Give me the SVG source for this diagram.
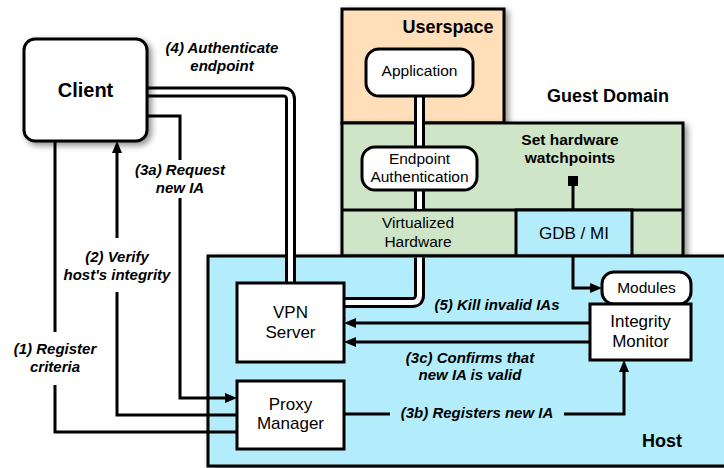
<svg xmlns="http://www.w3.org/2000/svg" width="724" height="468" viewBox="0 0 724 468">
<style>
.box{stroke:#000;stroke-width:3}
.t{font-family:"Liberation Sans",Arial,sans-serif;fill:#000;text-anchor:middle}
.n{font-size:15.5px}
.n17{font-size:17px}
.title{font-size:18px;font-weight:bold}
.lbl{font-size:15px;font-weight:bold;font-style:italic}
.line{fill:none;stroke:#000;stroke-width:3}
.dblo{fill:none;stroke:#000;stroke-width:11}
.dbli{fill:none;stroke:#fff;stroke-width:5}
</style>
<defs>
<filter id="sh" x="-10%" y="-10%" width="130%" height="130%">
<feDropShadow dx="3" dy="3" stdDeviation="3" flood-color="#000" flood-opacity="0.45"/>
</filter>
<marker id="arr" viewBox="0 0 12 10" refX="4" refY="5" markerWidth="12" markerHeight="10" markerUnits="userSpaceOnUse" orient="auto">
<path d="M0,0 L12,5 L0,10 z" fill="#000"/>
</marker>
<marker id="sq" viewBox="0 0 10 10" refX="5" refY="5" markerWidth="10" markerHeight="10" markerUnits="userSpaceOnUse" orient="auto">
<rect x="0" y="0" width="10" height="10" fill="#000"/>
</marker>
</defs>
<rect width="724" height="468" fill="#fff"/>

<g id="userspace">
<rect class="box" x="342" y="9" width="162" height="114" fill="#FFDFBA" filter="url(#sh)"/>
<text class="t title" x="448" y="33">Userspace</text>
</g>

<g id="guest-domain">
<rect class="box" x="342" y="123" width="341" height="133" fill="#CFE5C8" filter="url(#sh)"/>
<line class="box" x1="342" y1="210" x2="683" y2="210"/>
<text class="t title" x="608" y="102">Guest Domain</text>
<text class="t title" x="570" y="145" style="font-size:15.5px">Set hardware</text>
<text class="t title" x="570" y="163" style="font-size:15.5px">watchpoints</text>
</g>

<g id="virtualized-hardware">
<text class="t n" x="418" y="228">Virtualized</text>
<text class="t n" x="418" y="247">Hardware</text>
</g>

<g id="gdb-mi">
<rect class="box" x="516" y="210" width="116" height="46" fill="#B3EDFC"/>
<text class="t n17" x="574" y="239">GDB / MI</text>
</g>

<g id="host">
<rect class="box" x="208" y="256" width="530" height="210" fill="#B3EDFC" filter="url(#sh)"/>
<text class="t title" x="662" y="447">Host</text>
</g>

<g id="connectors">
<path class="line" d="M55,141 V332 M55,385 V432 H237"/>
<path class="line" d="M237,415 H117 V292 M117,238 V149" marker-end="url(#arr)"/>
<path class="line" d="M147,116 H180 V160 M180,198 V398 H229" marker-end="url(#arr)"/>
<path class="dblo" d="M147,92 H283 Q290.5,92 290.5,99.5 V283"/>
<path class="dbli" d="M147,92 H283 Q290.5,92 290.5,99.5 V284.5"/>
<path class="dblo" d="M419.5,96 V147 M419.5,190 V209 M419.5,257.5 V295 Q419.5,302.5 412,302.5 H344"/>
<path class="dbli" d="M419.5,94.5 V148.5 M419.5,188.5 V209 M419.5,257.5 V295 Q419.5,302.5 412,302.5 H342.5"/>
<path class="line" d="M573,255 V288 H594" marker-end="url(#arr)"/>
<path class="line" d="M573,210 V181" marker-end="url(#sq)"/>
<path class="line" d="M590,323 H352" marker-end="url(#arr)"/>
<path class="line" d="M590,342 H352" marker-end="url(#arr)"/>
<path class="line" d="M344,414 H390 M564,414 H624 V368" marker-end="url(#arr)"/>
<text class="t lbl" x="222" y="53">(4) Authenticate</text>
<text class="t lbl" x="222" y="71">endpoint</text>
<text class="t lbl" x="180" y="175">(3a) Request</text>
<text class="t lbl" x="180" y="193">new IA</text>
<text class="t lbl" x="117" y="262">(2) Verify</text>
<text class="t lbl" x="117" y="280">host's integrity</text>
<text class="t lbl" x="55" y="354">(1) Register</text>
<text class="t lbl" x="55" y="372">criteria</text>
<text class="t lbl" x="497" y="310">(5) Kill invalid IAs</text>
<text class="t lbl" x="470" y="363">(3c) Confirms that</text>
<text class="t lbl" x="470" y="380">new IA is valid</text>
<text class="t lbl" x="477" y="418">(3b) Registers new IA</text>
</g>

<g id="client">
<rect class="box" x="24" y="39" width="123" height="102" rx="11" fill="#fff" filter="url(#sh)"/>
<text class="t title" x="85.5" y="97" style="font-size:20px">Client</text>
</g>

<g id="application">
<rect class="box" x="366" y="49" width="107" height="47" rx="13" fill="#fff"/>
<text class="t n" x="419.5" y="76">Application</text>
</g>

<g id="endpoint-authentication">
<rect class="box" x="362" y="147" width="115" height="43" rx="13" fill="#fff"/>
<text class="t n" x="419.5" y="164">Endpoint</text>
<text class="t n" x="419.5" y="182">Authentication</text>
</g>

<g id="vpn-server">
<rect class="box" x="237" y="283" width="107" height="79" fill="#fff"/>
<text class="t n17" x="290.5" y="318">VPN</text>
<text class="t n17" x="290.5" y="338">Server</text>
</g>

<g id="proxy-manager">
<rect class="box" x="237" y="381" width="107" height="68" fill="#fff"/>
<text class="t n17" x="290.5" y="410">Proxy</text>
<text class="t n17" x="290.5" y="429">Manager</text>
</g>

<g id="modules">
<rect class="box" x="602" y="272" width="89" height="32" rx="12" fill="#fff"/>
<text class="t n" x="646.5" y="293">Modules</text>
</g>

<g id="integrity-monitor">
<rect class="box" x="590" y="304" width="101" height="56" fill="#fff"/>
<text class="t n17" x="640.5" y="327">Integrity</text>
<text class="t n17" x="640.5" y="347">Monitor</text>
</g>
</svg>
